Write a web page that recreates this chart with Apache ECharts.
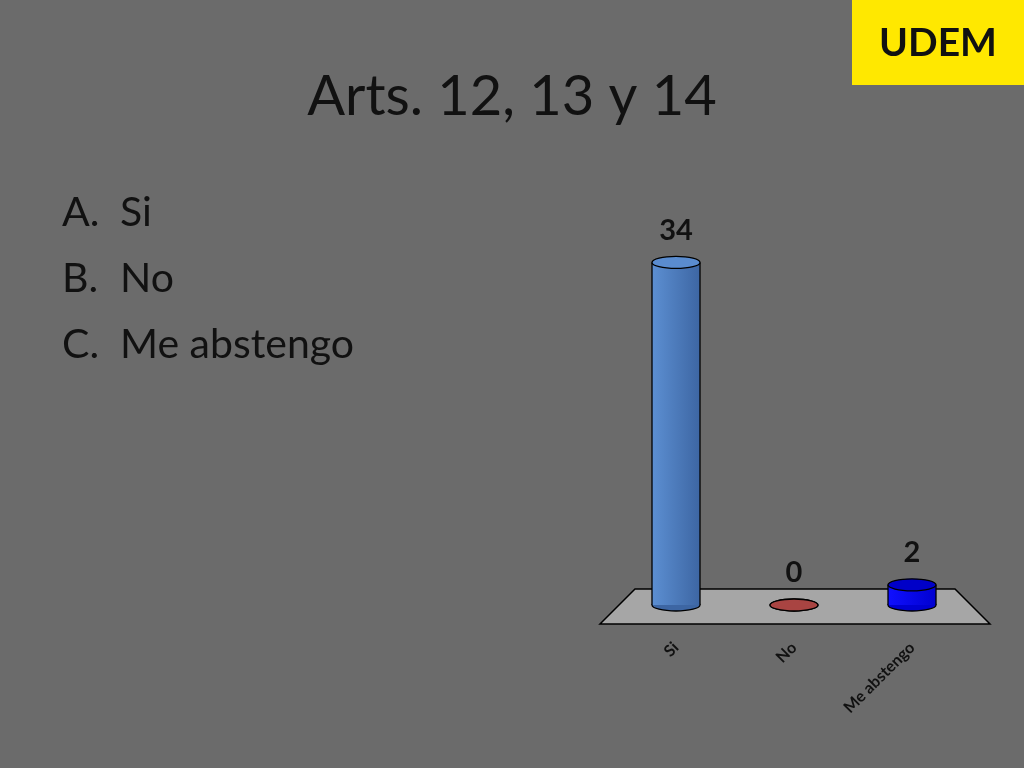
<!DOCTYPE html>
<html lang="es">
<head>
    <meta charset="UTF-8">
    <title>Arts. 12, 13 y 14</title>
    <script type="text/javascript" src="https://cdn.jsdelivr.net/npm/echarts@6/dist/echarts.min.js"></script>
    <style>
        html, body { margin: 0; padding: 0; background: #6b6b6b; }
        #main { width: 1024px; height: 768px; }
    </style>
</head>
<body>
    <div id="main"></div>
    <script type="text/javascript">
        // datos de la votación
        var categorias = ['Si', 'No', 'Me abstengo'];
        var votos = [34, 0, 2];
        var letras = ['A.', 'B.', 'C.'];
        var opciones = ['Si', 'No', 'Me abstengo'];

        // colores de cada cilindro: [izquierda, derecha, tapa]
        var colores = [
            ['#5c8fd2', '#3d66a3', '#5a8ccf'],
            ['#b24c4a', '#9a3a38', '#a94442'],
            ['#1010ff', '#0000d0', '#0000c8']
        ];

        var myChart = echarts.init(document.getElementById('main'));

        function cilindro(params, api) {
            var base = api.coord([api.value(0), 0]);
            var tope = api.coord([api.value(0), api.value(1)]);
            var rx = 24, ry = 6;
            var c = colores[params.dataIndex];
            var borde = { stroke: '#000', lineWidth: 1.3 };
            return {
                type: 'group',
                children: [
                    { type: 'ellipse', shape: { cx: base[0], cy: base[1], rx: rx, ry: ry },
                      style: Object.assign({ fill: c[1] }, borde) },
                    { type: 'rect', shape: { x: base[0] - rx, y: tope[1], width: rx * 2, height: base[1] - tope[1] },
                      style: { fill: new echarts.graphic.LinearGradient(0, 0, 1, 0, [
                          { offset: 0, color: c[0] }, { offset: 1, color: c[1] }]) } },
                    { type: 'line', shape: { x1: base[0] - rx, y1: tope[1], x2: base[0] - rx, y2: base[1] }, style: borde },
                    { type: 'line', shape: { x1: base[0] + rx, y1: tope[1], x2: base[0] + rx, y2: base[1] }, style: borde },
                    { type: 'ellipse', shape: { cx: tope[0], cy: tope[1], rx: rx, ry: ry },
                      style: Object.assign({ fill: c[2] }, borde) },
                    { type: 'text', x: tope[0], y: tope[1] - 32,
                      style: { text: String(api.value(1)), fill: '#111', fontFamily: 'Lato', fontWeight: 'bold',
                               fontSize: 29, align: 'center', verticalAlign: 'middle' } }
                ]
            };
        }

        var graficos = [
            { type: 'rect', shape: { x: 852, y: 0, width: 172, height: 85 }, style: { fill: '#ffe800' }, z: 0 },
            { type: 'text', x: 938, y: 43, style: { text: 'UDEM', fill: '#111', fontFamily: 'Lato', fontWeight: 'bold',
              fontSize: 39, align: 'center', verticalAlign: 'middle' }, z: 1 },
            { type: 'polygon', shape: { points: [[635, 589], [955, 589], [990, 624], [600, 624]] },
              style: { fill: '#a6a6a6', stroke: '#000', lineWidth: 1.5 }, z: 0 }
        ];
        for (var i = 0; i < letras.length; i++) {
            var y = 213 + i * 66;
            graficos.push({ type: 'text', x: 62, y: y, style: { text: letras[i], fill: '#111',
                fontFamily: 'Lato', fontSize: 41, verticalAlign: 'middle' } });
            graficos.push({ type: 'text', x: 120, y: y, style: { text: opciones[i], fill: '#111',
                fontFamily: 'Lato', fontSize: 41, verticalAlign: 'middle' } });
        }

        var option = {
            backgroundColor: '#6b6b6b',
            animation: false,
            title: {
                text: 'Arts. 12, 13 y 14',
                left: 'center',
                top: 64,
                textStyle: { fontFamily: 'Lato', fontSize: 56, fontWeight: 'normal', color: '#111' }
            },
            graphic: graficos,
            grid: { left: 617, width: 354, top: 202, bottom: 163 },
            xAxis: {
                type: 'category',
                data: categorias,
                axisLine: { show: false },
                axisTick: { show: false },
                axisLabel: { rotate: 45, margin: 40, fontFamily: 'Lato', fontWeight: 'bold',
                             fontSize: 16, color: '#111', interval: 0 }
            },
            yAxis: { type: 'value', min: 0, max: 40, show: false },
            series: [{
                type: 'custom',
                renderItem: cilindro,
                data: votos.map(function (v, i) { return [i, v]; }),
                z: 5
            }]
        };

        myChart.setOption(option);
    </script>
</body>
</html>
